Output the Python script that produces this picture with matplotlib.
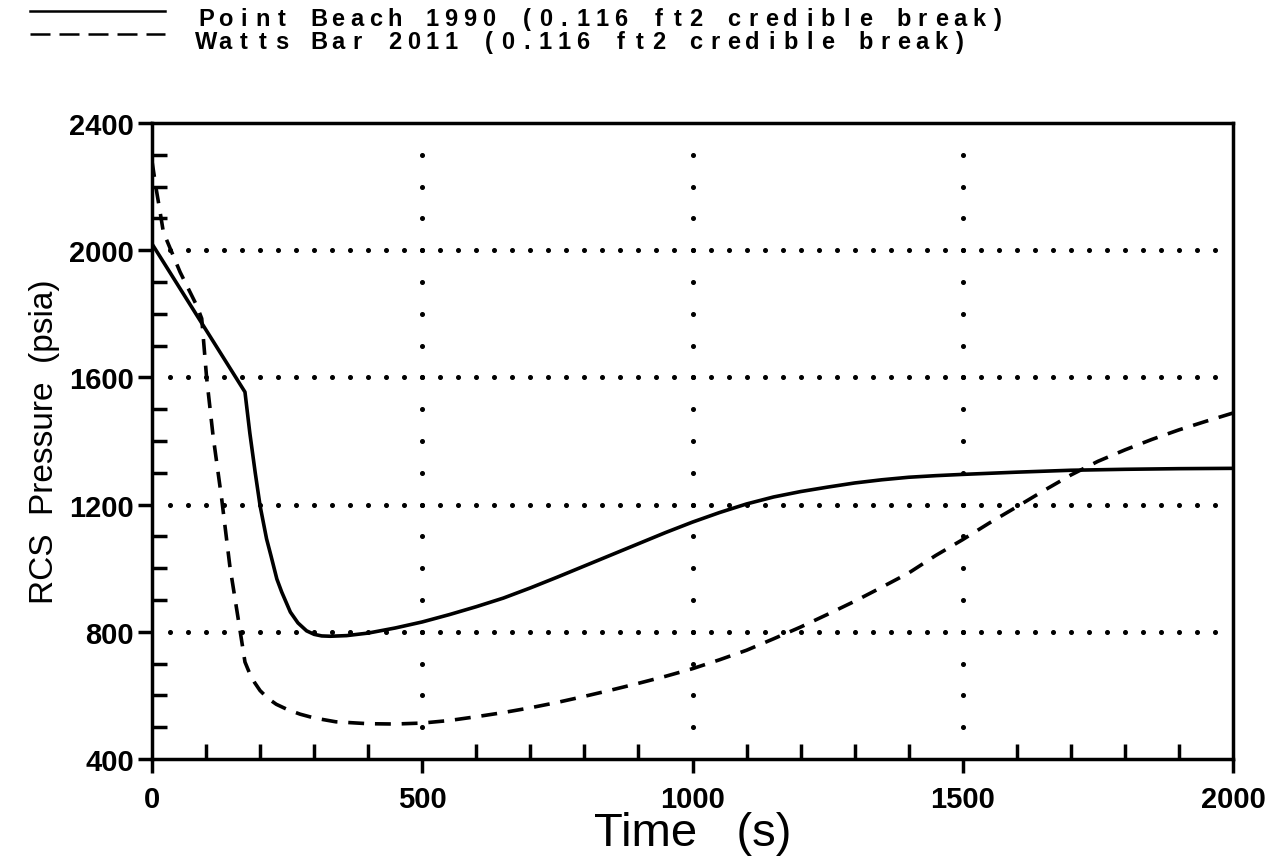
import numpy as np
import matplotlib
matplotlib.use("Agg")
import matplotlib.pyplot as plt
from matplotlib.lines import Line2D
from matplotlib.ticker import MultipleLocator

# RCS pressure transients
pb_time = [0, 172, 181, 191, 200, 212, 220, 231, 240, 256, 270, 286, 300, 314, 330, 360,
           400, 450, 500, 550, 600, 650, 700, 750, 800, 850, 900, 950, 1000, 1050,
           1100, 1150, 1200, 1250, 1300, 1350, 1400, 1450, 1500, 1600, 1700, 1800,
           1900, 2000]
pb_psia = [2020, 1554, 1425, 1300, 1196, 1092, 1040, 966, 925, 862, 828, 803, 792, 787, 786, 788,
           796, 812, 831, 854, 879, 906, 938, 972, 1007, 1042, 1077, 1112, 1145, 1175,
           1202, 1224, 1241, 1255, 1268, 1278, 1286, 1291, 1295, 1302, 1308, 1311,
           1313, 1314]

wb_time = [0, 8, 15, 21, 52, 83, 92, 101, 113, 129, 144, 163, 172, 180, 190, 200,
           215, 230, 250, 274, 300, 340, 400, 450, 500, 550, 600, 650, 700, 750, 800,
           850, 900, 950, 1000, 1050, 1100, 1150, 1200, 1250, 1300, 1350, 1400, 1450,
           1500, 1550, 1600, 1650, 1700, 1750, 1800, 1850, 1900, 1950, 2000]
wb_psia = [2280, 2190, 2120, 2057, 1931, 1825, 1785, 1600, 1416, 1217, 1007, 803, 705, 672, 640, 615,
           590, 572, 556, 541, 529, 517, 511, 510, 513, 521, 533, 546, 561, 578, 597,
           617, 638, 660, 684, 712, 742, 778, 815, 855, 896, 940, 985, 1040,
           1090, 1143, 1193, 1244, 1293, 1336, 1372, 1405, 1435, 1462, 1488]

legend_labels = ["Point Beach 1990 (0.116 ft2 credible break)",
                 "Watts Bar 2011 (0.116 ft2 credible break)"]
x_major = [0, 500, 1000, 1500, 2000]
y_major = [400, 800, 1200, 1600, 2000, 2400]
grid_y = [800, 1200, 1600, 2000]
grid_x = [500, 1000, 1500]

SANS = ["Liberation Sans", "DejaVu Sans"]
W, H = 1272, 862
DASH = (4.4, 3.0)

fig = plt.figure(figsize=(W / 100, H / 100), dpi=100)
ax = fig.add_axes([152 / W, 1 - 760 / H, (1233 - 152) / W, (760 - 124) / H])

# dotted grid, drawn as dots like the original plotter output
dot_x = np.arange(1, 60) * 2000 / 60
dot_y = np.arange(500, 2301, 100)
for gy in grid_y:
    ax.plot(dot_x, np.full(len(dot_x), gy), ls="none", marker="o", ms=2.6, color="k", zorder=1)
for gx in grid_x:
    ax.plot(np.full(len(dot_y), gx), dot_y, ls="none", marker="o", ms=2.6, color="k", zorder=1)

ax.plot(pb_time, pb_psia, color="k", lw=2.6, solid_joinstyle="round", zorder=3)
ax.plot(wb_time, wb_psia, color="k", lw=2.6, dashes=DASH, zorder=3)

ax.set_xlim(0, 2000); ax.set_ylim(400, 2400)
ax.set_xticks(x_major); ax.set_yticks(y_major)
ax.xaxis.set_minor_locator(MultipleLocator(100))
ax.yaxis.set_minor_locator(MultipleLocator(100))
ax.tick_params(which="major", direction="out", length=10, width=2.5, labelsize=21, pad=3)
ax.tick_params(axis="x", which="major", pad=9)
ax.tick_params(which="minor", direction="in", length=11, width=2.5)
for lab in ax.get_xticklabels() + ax.get_yticklabels():
    lab.set_family(SANS); lab.set_weight("bold")
for s in ax.spines.values():
    s.set_linewidth(2.5)

ax.set_xlabel("Time   (s)", fontsize=34, family=SANS, labelpad=-2)
ax.set_ylabel("RCS  Pressure  (psia)", fontsize=24, family=SANS)
ax.yaxis.set_label_coords(-0.085, 0.5)

# legend at the top: sample line + spaced-out characters
for row, label in enumerate(legend_labels):
    yl = 1 - (12 + row * 23) / H
    kw = {} if row == 0 else {"dashes": (8, 3.6)}
    fig.add_artist(Line2D([30 / W, 165 / W], [yl, yl], transform=fig.transFigure,
                          color="k", lw=1.8, **kw))
    base = 1 - (26 + row * 23) / H
    for i, ch in enumerate(label):
        fig.text((206 + i * 18.85) / W, base, ch, ha="center", va="baseline",
                 fontsize=17, weight="bold", family=SANS)

fig.savefig("out.png", dpi=100)
